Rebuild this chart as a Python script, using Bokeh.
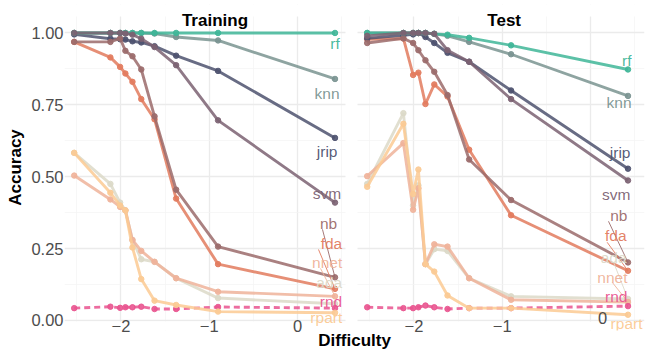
from bokeh.plotting import figure
from bokeh.models import Range1d, FixedTicker, Grid, LinearAxis, Label, BoxAnnotation, NumeralTickFormatter
from bokeh.embed import file_html
from bokeh.resources import INLINE
from bokeh.core.properties import value

# ---------------- data ----------------
difficulty = [-2.53, -2.12, -2.01, -1.95, -1.87, -1.77, -1.62, -1.375, -0.90, 0.425]
methods = ["ada", "fda", "jrip", "knn", "nb", "nnet", "rf", "rnd", "rpart", "svm"]

train_ada   = [0.583, 0.475, 0.410, 0.383, 0.280, 0.213, 0.204, 0.147, 0.078, 0.058]
train_fda   = [0.969, 0.915, 0.882, 0.859, 0.830, 0.770, 0.700, 0.424, 0.196, 0.110]
train_jrip  = [0.995, 0.980, 0.978, 0.977, 0.971, 0.967, 0.954, 0.921, 0.868, 0.635]
train_knn   = [1.000, 1.000, 1.000, 1.000, 1.000, 1.000, 0.998, 0.986, 0.974, 0.840]
train_nb    = [0.969, 0.969, 0.981, 0.938, 0.919, 0.873, 0.710, 0.455, 0.257, 0.150]
train_nnet  = [0.504, 0.421, 0.395, 0.383, 0.280, 0.242, 0.204, 0.147, 0.100, 0.084]
train_rf    = [1.000, 1.000, 1.000, 1.000, 1.000, 1.000, 1.000, 1.000, 1.000, 1.000]
train_rnd   = [0.043, 0.048, 0.044, 0.046, 0.046, 0.048, 0.040, 0.040, 0.047, 0.043]
train_rpart = [0.583, 0.444, 0.400, 0.383, 0.254, 0.144, 0.069, 0.054, 0.031, 0.027]
train_svm   = [1.000, 1.000, 1.000, 0.998, 0.994, 0.980, 0.951, 0.888, 0.696, 0.410]

test_ada   = [0.475, 0.721, 0.400, 0.470, 0.196, 0.248, 0.242, 0.147, 0.084, 0.075]
test_fda   = [0.978, 0.981, 0.854, 0.862, 0.753, 0.821, 0.779, 0.594, 0.366, 0.173]
test_jrip  = [0.981, 0.992, 0.995, 1.000, 0.986, 0.965, 0.931, 0.900, 0.800, 0.528]
test_knn   = [1.000, 1.000, 1.000, 1.000, 1.000, 0.997, 0.990, 0.969, 0.926, 0.781]
test_nb    = [0.965, 0.981, 0.965, 0.940, 0.905, 0.865, 0.784, 0.560, 0.419, 0.202]
test_nnet  = [0.502, 0.617, 0.385, 0.460, 0.196, 0.265, 0.257, 0.147, 0.072, 0.064]
test_rf    = [1.000, 1.000, 1.000, 1.000, 1.000, 0.997, 0.994, 0.983, 0.957, 0.873]
test_rnd   = [0.046, 0.043, 0.043, 0.046, 0.052, 0.046, 0.040, 0.043, 0.043, 0.050]
test_rpart = [0.465, 0.684, 0.440, 0.525, 0.196, 0.170, 0.087, 0.043, 0.043, 0.020]
test_svm   = [0.990, 1.000, 1.000, 1.000, 1.000, 0.997, 0.940, 0.900, 0.770, 0.487]

panel_titles = ["Training", "Test"]
y_ticks = [0.0, 0.25, 0.5, 0.75, 1.0]
x_ticks = [-2, -1, 0]
x_tick_labels = ["\u22122", "\u22121", "0"]

# ---------------- style / layout ----------------
colors = {"ada": "#dcd9c8", "fda": "#e27b5e", "jrip": "#4e526f", "knn": "#7a9491",
          "nb": "#9b6b6b", "nnet": "#efb39a", "rf": "#3fb698", "rnd": "#e9548f",
          "rpart": "#fbca93", "svm": "#7b6272"}
FONT = "Liberation Sans"
OFFSET = 3.32              # horizontal shift of the second facet
XL0, XL1 = -2.640, 0.544   # panel x extent
Y0, Y1 = -0.0035, 1.057    # visible panel y extent (grid area)

train = dict(ada=train_ada, fda=train_fda, jrip=train_jrip, knn=train_knn, nb=train_nb,
             nnet=train_nnet, rf=train_rf, rnd=train_rnd, rpart=train_rpart, svm=train_svm)
test = dict(ada=test_ada, fda=test_fda, jrip=test_jrip, knn=test_knn, nb=test_nb,
            nnet=test_nnet, rf=test_rf, rnd=test_rnd, rpart=test_rpart, svm=test_svm)

# label anchor positions (right edge, vertical middle) in panel data coordinates
train_label_pos = {"rf": (0.479, 0.962), "knn": (0.476, 0.791), "jrip": (0.453, 0.588),
                   "svm": (0.495, 0.443), "nb": (0.450, 0.337), "fda": (0.507, 0.268),
                   "nnet": (0.507, 0.202), "ada": (0.507, 0.132), "rnd": (0.507, 0.066),
                   "rpart": (0.507, 0.010)}
test_label_pos = {"rf": (0.465, 0.904), "knn": (0.465, 0.759), "jrip": (0.453, 0.585),
                  "svm": (0.453, 0.438), "nb": (0.419, 0.365), "fda": (0.408, 0.296),
                  "ada": (0.408, 0.220), "nnet": (0.419, 0.150), "rnd": (0.419, 0.083),
                  "rpart": (0.589, -0.010)}
train_seg_start = {"nb": (0.283, 0.317), "fda": (0.238, 0.247), "nnet": (0.261, 0.181)}
test_seg_start = {"nb": (0.204, 0.345), "fda": (0.189, 0.272), "ada": (0.261, 0.203),
                  "nnet": (0.246, 0.133)}

p = figure(width=652, height=356, output_backend="svg", toolbar_location=None,
           x_range=Range1d(XL0, 3.932), y_range=Range1d(-0.0348, 1.099),
           x_axis_type=None, y_axis_type=None,
           min_border_left=64, min_border_right=8, min_border_top=4, min_border_bottom=26)
p.outline_line_color = None
p.background_fill_color = "white"
p.border_fill_color = "white"

# grids
xmaj = [t for t in x_ticks] + [t + OFFSET for t in x_ticks]
xmin = [-2.5, -1.5, -0.5, 0.5]
xmin = xmin + [t + OFFSET for t in xmin]
xg = Grid(dimension=0, ticker=FixedTicker(ticks=xmaj, minor_ticks=xmin),
          grid_line_color="#ebebeb", grid_line_width=1.3,
          minor_grid_line_color="#f3f3f3", minor_grid_line_width=0.7)
yg = Grid(dimension=1, ticker=FixedTicker(ticks=y_ticks, minor_ticks=[0.125, 0.375, 0.625, 0.875]),
          grid_line_color="#ebebeb", grid_line_width=1.3,
          minor_grid_line_color="#f3f3f3", minor_grid_line_width=0.7)
p.add_layout(xg)
p.add_layout(yg)
# blank out the gaps around/between the facet panels (strip area, gap, axis area)
for kw in (dict(left=XL1, right=XL0 + OFFSET), dict(bottom=Y1), dict(top=Y0)):
    p.add_layout(BoxAnnotation(fill_color="white", fill_alpha=1.0, line_alpha=0.0,
                               level="underlay", **kw))

# axes
yax = LinearAxis(ticker=FixedTicker(ticks=y_ticks), formatter=NumeralTickFormatter(format="0.00"))
yax.axis_label = "Accuracy"
xticks_all = x_ticks + [t + OFFSET for t in x_ticks[:2]]
xax = LinearAxis(ticker=FixedTicker(ticks=xticks_all, minor_ticks=[]))
xax.axis_label = "Difficulty"
overrides = {}
for t, lab in zip(x_ticks, x_tick_labels):
    overrides[t] = lab
for t, lab in zip(x_ticks[:2], x_tick_labels[:2]):
    overrides[t + OFFSET] = lab
xax.major_label_overrides = overrides
for ax in (xax, yax):
    ax.axis_line_color = None
    ax.major_tick_line_color = None
    ax.minor_tick_line_color = None
    ax.major_tick_out = 0
    ax.major_tick_in = 0
    ax.major_label_text_font = FONT
    ax.major_label_text_font_size = "16.5px"
    ax.major_label_text_color = "#4d4d4d"
    ax.axis_label_text_font = FONT
    ax.axis_label_text_font_size = "17px"
    ax.axis_label_text_font_style = "bold"
    ax.axis_label_text_color = "black"
yax.major_label_standoff = 1
yax.axis_label_standoff = 3
xax.major_label_standoff = -11
xax.axis_label_standoff = -4
p.add_layout(yax, "left")
p.add_layout(xax, "below")

# series
for panel, data, lpos, segs in ((0, train, train_label_pos, train_seg_start),
                                (1, test, test_label_pos, test_seg_start)):
    xs = [d + OFFSET * panel for d in difficulty]
    for m in methods:
        dash = "6 4" if m == "rnd" else "solid"
        p.line(xs, data[m], line_color=colors[m], line_width=2.9, line_alpha=0.85, line_dash=dash)
        p.scatter(xs, data[m], size=5.5, fill_color=colors[m], line_color=colors[m], alpha=0.9)
    for m, (sx, sy) in segs.items():
        p.segment(x0=[sx + OFFSET * panel], y0=[sy], x1=[xs[-1]], y1=[data[m][-1]],
                  line_color=colors[m], line_width=0.9)
    ms = list(lpos.keys())
    p.text(x=[lpos[m][0] + OFFSET * panel for m in ms], y=[lpos[m][1] for m in ms], text=ms,
           text_color=[colors[m] for m in ms], text_align="right", text_baseline="middle",
           text_font=value(FONT), text_font_size="15.5px", text_alpha=0.95)

# stray "0" text in second panel
p.text(x=[0.136 + OFFSET], y=[0.007], text=["0"], text_color="#4d4d4d", text_align="center",
       text_baseline="middle", text_font=value(FONT), text_font_size="16.5px")

# facet strip titles
p.add_layout(Label(x=-0.935, y=1.045, text=panel_titles[0], text_align="center",
                   text_baseline="middle", text_font=FONT, text_font_size="17px",
                   text_font_style="bold", text_color="black"))
p.add_layout(Label(x=-0.978 + OFFSET, y=1.045, text=panel_titles[1], text_align="center",
                   text_baseline="middle", text_font=FONT, text_font_size="17px",
                   text_font_style="bold", text_color="black"))

open("out.html", "w").write(file_html(p, INLINE))
